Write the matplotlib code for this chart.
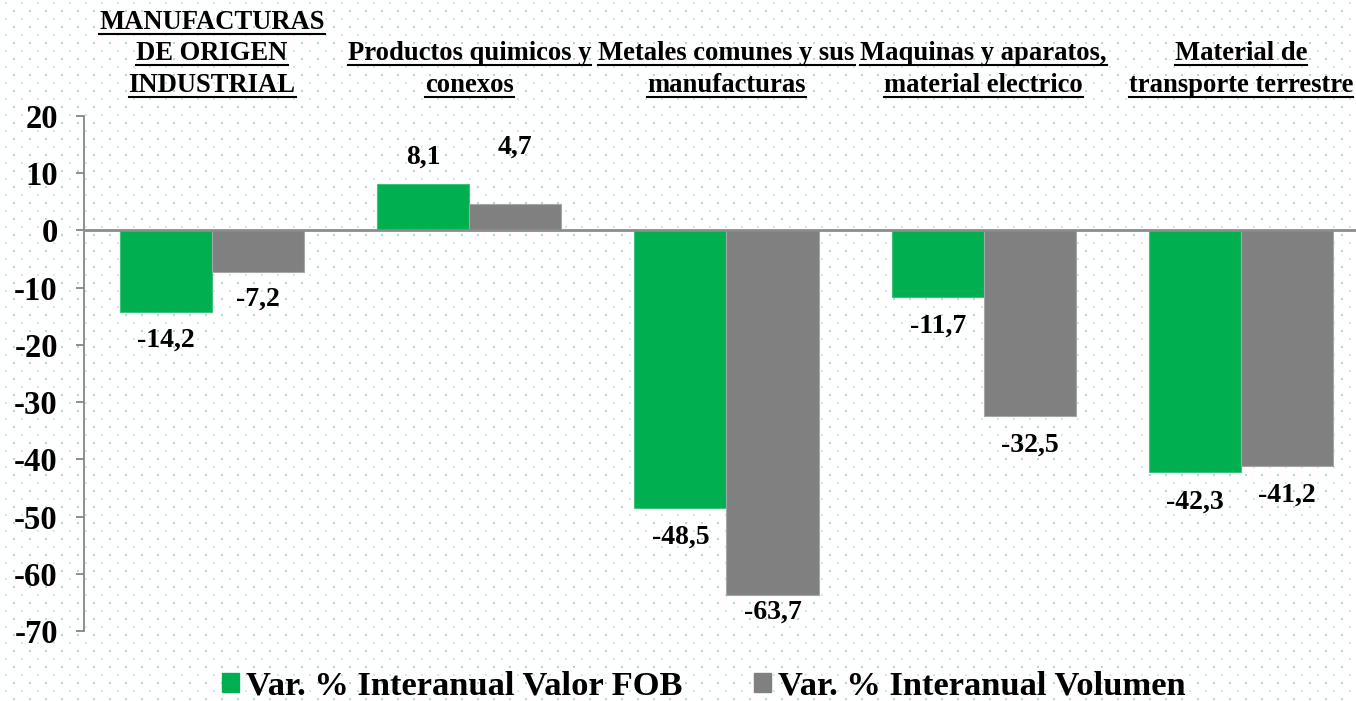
import numpy as np
import matplotlib
matplotlib.use("Agg")
import matplotlib.pyplot as plt
from matplotlib.patches import Patch
from matplotlib.lines import Line2D
from matplotlib import transforms

categorias = [
    ["MANUFACTURAS", "DE ORIGEN", "INDUSTRIAL"],
    ["Productos quimicos y", "conexos"],
    ["Metales comunes y sus", "manufacturas"],
    ["Maquinas y aparatos,", "material electrico"],
    ["Material de", "transporte terrestre"],
]
valor_fob = [-14.2, 8.1, -48.5, -11.7, -42.3]
volumen = [-7.2, 4.7, -63.7, -32.5, -41.2]
serie_nombres = ["Var. % Interanual Valor FOB", "Var. % Interanual Volumen"]
y_ticks = [20, 10, 0, -10, -20, -30, -40, -50, -60, -70]

VERDE = "#00B050"
GRIS = "#808080"
W, H = 1356, 701

plt.rcParams["font.family"] = ["Liberation Serif", "DejaVu Serif"]
plt.rcParams["font.weight"] = "bold"

fig = plt.figure(figsize=(W / 100, H / 100), dpi=100)
fig.patch.set_facecolor("white")

# fondo punteado
bg = fig.add_axes([0, 0, 1, 1], zorder=-5)
bg.set_xlim(0, W)
bg.set_ylim(H, 0)
bg.axis("off")
for k, (x0, col) in enumerate([(6, "#cfe9ef"), (14, "#a9dbe6")]):
    xs = np.arange(x0, W, 16)
    ys = np.arange(2.7 + 8 * k, H, 16)
    gx, gy = np.meshgrid(xs, ys)
    bg.scatter(gx.ravel(), gy.ravel(), s=3.5, marker="s", color=col, lw=0)

ax = fig.add_axes([83.5 / W, 1 - 631 / H, 1286 / W, 515 / H])
ax.patch.set_alpha(0)

x = np.arange(len(categorias))
w = 0.358
b1 = ax.bar(x - w / 2, valor_fob, w, color=VERDE, edgecolor="#3cc27a", lw=0.8, zorder=2)
b2 = ax.bar(x + w / 2, volumen, w, color=GRIS, edgecolor="#a6a6a6", lw=0.8, zorder=2)

ax.set_xlim(-0.5, len(categorias) - 0.5)
ax.set_ylim(-70, 20)
ax.set_yticks(y_ticks)
ax.set_yticklabels([str(t) for t in y_ticks])
ax.tick_params(axis="y", length=5.5, width=1.3, color="#868686", pad=13, labelsize=23.5)
ax.tick_params(axis="x", bottom=False, labelbottom=False)
for s in ["top", "right", "bottom"]:
    ax.spines[s].set_visible(False)
ax.spines["left"].set_color("#868686")
ax.spines["left"].set_linewidth(1.3)
ax.axhline(0, color="#8c8c8c", lw=2, zorder=3)

# etiquetas de datos
off1 = [28, 27, 29, 29, 30]
off2 = [28, 56, 17, 29, 29]
for bars, vals, offs in [(b1, valor_fob, off1), (b2, volumen, off2)]:
    for rect, v, o in zip(bars, vals, offs):
        cx = rect.get_x() + rect.get_width() / 2
        d = o if v >= 0 else -o
        ax.annotate(f"{v:.1f}".replace(".", ","), (cx, v), xytext=(0, d),
                    textcoords="offset pixels", ha="center", va="center",
                    fontsize=20, fontweight="bold")

# titulos de categoria subrayados
tr = transforms.blended_transform_factory(ax.transData, fig.transFigure)
baselines = [92, 60.5, 29]
titulos = []
for i, lineas in enumerate(categorias):
    for j, linea in enumerate(reversed(lineas)):
        t = fig.text(i, 1 - baselines[j] / H, linea, transform=tr, ha="center",
                     va="baseline", fontsize=19.2, fontweight="bold")
        titulos.append((t, baselines[j]))

fig.legend(handles=[Patch(color=VERDE), Patch(color=GRIS)], labels=serie_nombres,
           loc="center", bbox_to_anchor=(0.519, 1 - 686 / H), ncol=2, frameon=False,
           prop={"size": 24.8, "weight": "bold"}, handlelength=0.48, handleheight=0.48,
           handletextpad=0.2, columnspacing=2.1)

fig.canvas.draw()
r = fig.canvas.get_renderer()
for t, base in titulos:
    bb = t.get_window_extent(r)
    yl = 1 - (base + 4.5) / H
    fig.add_artist(Line2D([bb.x0 / W, bb.x1 / W], [yl, yl], transform=fig.transFigure,
                          color="black", lw=1.5))

fig.savefig("out.png", dpi=100)
